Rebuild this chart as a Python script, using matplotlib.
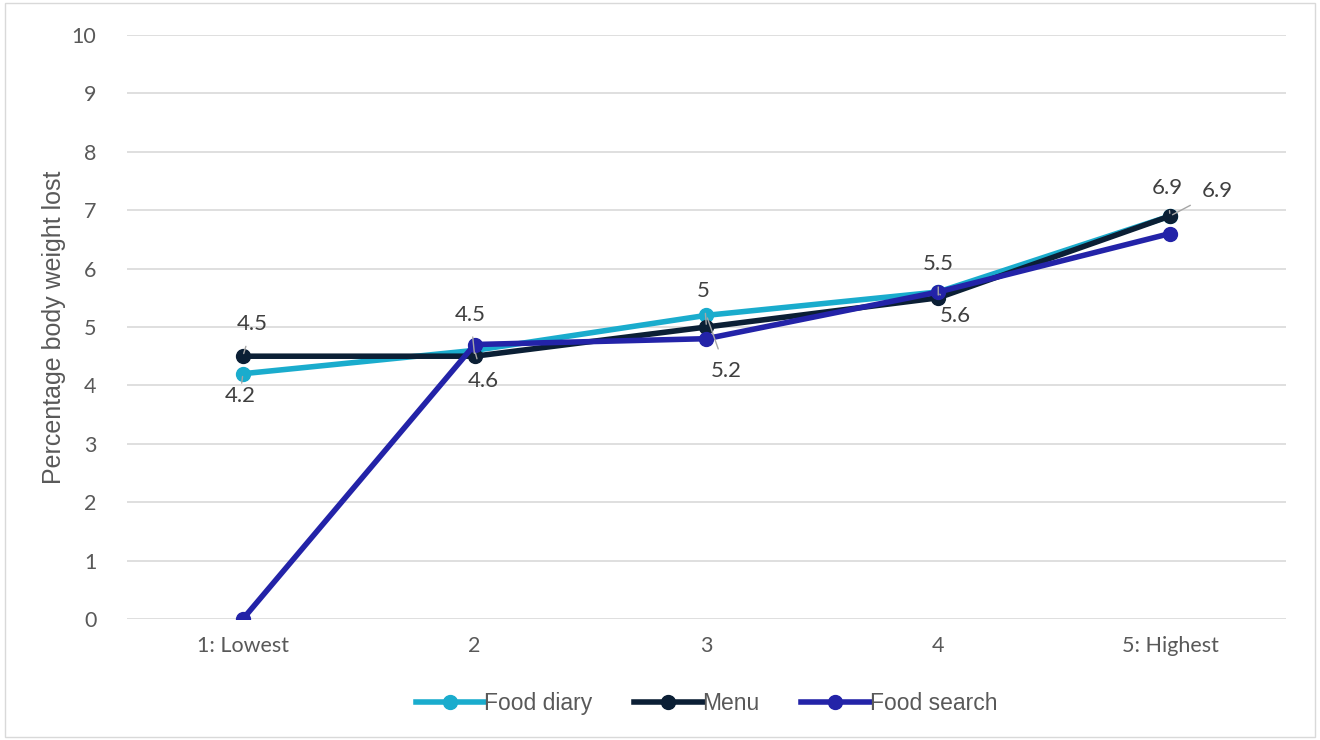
import matplotlib.pyplot as plt
from matplotlib.patches import Rectangle

categories = ['1: Lowest', '2', '3', '4', '5: Highest']
food_diary = [4.2, 4.6, 5.2, 5.6, 6.9]
menu = [4.5, 4.5, 5.0, 5.5, 6.9]
food_search = [0, 4.7, 4.8, 5.6, 6.6]

# label text for Menu (above) and Food diary (below), offsets in points
menu_labels = ['4.5', '4.5', '5', '5.5', '6.9']
diary_labels = ['4.2', '4.6', '5.2', '5.6', '6.9']
menu_offsets = [(7, 23), (-3, 30), (-2, 26), (0, 24), (-2, 20)]
diary_offsets = [(-2, -16), (6, -22), (14, -40), (12, -17), (34, 18)]

plt.rcParams['font.family'] = ['Liberation Sans', 'DejaVu Sans']
text_col = '#595959'

fig = plt.figure(figsize=(13.2, 7.4), dpi=100)
fig.patches.append(Rectangle((0.004, 0.004), 0.992, 0.992, transform=fig.transFigure,
                             fill=False, edgecolor='#d9d9d9', linewidth=1))
ax = fig.add_axes([0.0962, 0.1635, 0.8780, 0.7892])

x = range(len(categories))
ax.plot(x, food_diary, color='#1aaccd', lw=4, marker='o', ms=10, label='Food diary', zorder=3)
ax.plot(x, menu, color='#0b1f35', lw=4, marker='o', ms=10, label='Menu', zorder=4)
ax.plot(x, food_search, color='#2323a8', lw=4, marker='o', ms=10, label='Food search', zorder=5)

for i in x:
    ax.annotate(menu_labels[i], (i, menu[i]), xytext=menu_offsets[i], textcoords='offset points',
                ha='center', va='center', fontsize=16, color='#404040', family=['Lato', 'DejaVu Sans'],
                arrowprops=dict(arrowstyle='-', color='#a6a6a6', lw=1, shrinkA=7, shrinkB=2), zorder=6)
    ax.annotate(diary_labels[i], (i, food_diary[i]), xytext=diary_offsets[i], textcoords='offset points',
                ha='center', va='center', fontsize=16, color='#404040', family=['Lato', 'DejaVu Sans'],
                arrowprops=dict(arrowstyle='-', color='#a6a6a6', lw=1, shrinkA=7, shrinkB=2), zorder=6)

ax.set_xlim(-0.5, 4.5)
ax.set_ylim(0, 10)
ax.set_yticks(range(0, 11))
ax.set_xticks(list(x))
ax.set_xticklabels(categories)
ax.tick_params(axis='both', length=0, labelsize=15.5, labelcolor=text_col)
ax.tick_params(axis='y', pad=22)
ax.tick_params(axis='x', pad=12)
for lbl in ax.get_yticklabels() + ax.get_xticklabels():
    lbl.set_family(['Lato', 'DejaVu Sans'])
ax.grid(axis='y', color='#d9d9d9', lw=1.2)
ax.set_axisbelow(True)
for s in ax.spines.values():
    s.set_visible(False)
ax.set_ylabel('Percentage body weight lost', fontsize=18, color=text_col, labelpad=4)

leg = ax.legend(loc='upper center', bbox_to_anchor=(0.5, -0.09), ncol=3, frameon=False,
                fontsize=16.5, handlelength=3.0, handletextpad=0.0, columnspacing=1.8)
for t in leg.get_texts():
    t.set_color(text_col)

fig.savefig('out.png', dpi=100)
